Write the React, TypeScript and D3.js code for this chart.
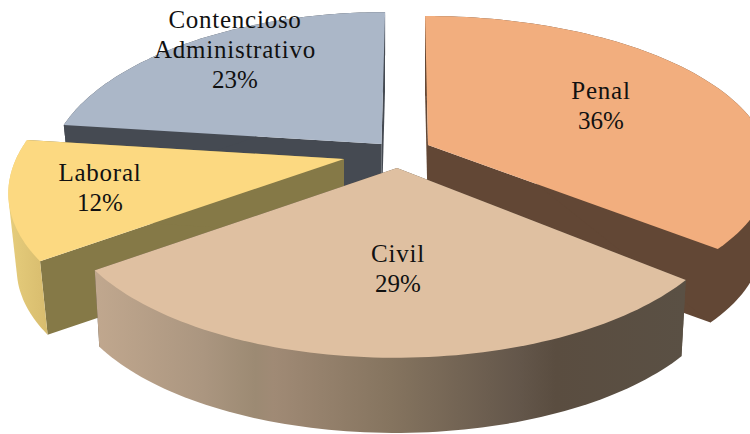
import React from "react";
import * as d3 from "d3";

const categories = ["Penal", "Civil", "Laboral", "Contencioso Administrativo"];
const shares = [36, 29, 12, 23];
const percentLabels = ["36%", "29%", "12%", "23%"];

const labelLines = [["Penal"], ["Civil"], ["Laboral"], ["Contencioso", "Administrativo"]];
const topColors = ["#f2ae7e", "#dfc0a1", "#fcd981", "#abb7c8"];
const radialColors = ["#624735", "#5a4f42", "#857947", "#454a52"];
const apexes: [number, number][] = [[428, 145], [397, 168], [344, 159], [381.5, 144]];
const labelPos: [number, number][] = [[601, 99], [398, 262], [100, 181], [235, 28]];
const radiiX = [338, 333, 328, 328];
const radiiY = [148, 155.6, 155.6, 155.6];
const perspective = [0.147, 0.18, 0.18, 0.18];
const drops = [76, 78, 76, 76];
const bottomScales = [0.975, 0.985, 0.975, 0.975];
const paintOrder = [3, 0, 2, 1];

const W = 750, H = 434;
const VX = 405;

function project(i: number, t: number): [number, number] {
  const apex = apexes[i];
  const X = Math.sin(t), Y = Math.cos(t);
  const s = 1 / (1 + perspective[i] * Y);
  return [VX + (apex[0] - VX) * s + radiiX[i] * X * s, apex[1] - radiiY[i] * Y * s];
}
function dropPoint(i: number, p: [number, number]): [number, number] {
  const apex = apexes[i];
  const k = bottomScales[i];
  return [apex[0] + (p[0] - apex[0]) * k, apex[1] + (p[1] - apex[1]) * k + drops[i]];
}

const pieGen = d3.pie<number>().sort(null).value((d) => d).startAngle(0).endAngle(2 * Math.PI);
const arcs = pieGen(shares);
const line = d3.line();

function arcPoints(i: number, a0: number, a1: number) {
  const n = 80;
  return d3.range(n + 1).map((k) => project(i, a0 + ((a1 - a0) * k) / n));
}
function closed(pts: [number, number][]) {
  return (line(pts) || "") + "Z";
}

export default function App() {
  return (
    <svg width={W} height={H} style={{ position: "absolute", left: 0, top: 0, background: "#fff", overflow: "hidden" }}>
      <defs>
        <linearGradient id="civilWall" gradientUnits="userSpaceOnUse" x1={97} x2={685} y1={0} y2={0}>
          <stop offset="0" stopColor="#c0a78e" />
          <stop offset="0.18" stopColor="#ab9680" />
          <stop offset="0.27" stopColor="#9c8a73" />
          <stop offset="0.3" stopColor="#a08a75" />
          <stop offset="0.5" stopColor="#85745f" />
          <stop offset="0.72" stopColor="#63564a" />
          <stop offset="0.78" stopColor="#5a4d40" />
          <stop offset="1" stopColor="#5a5044" />
        </linearGradient>
        <linearGradient id="laboralWall" gradientUnits="userSpaceOnUse" x1={8} x2={52} y1={0} y2={0}>
          <stop offset="0" stopColor="#e6cd7c" />
          <stop offset="1" stopColor="#d6ba6c" />
        </linearGradient>
      </defs>
      {paintOrder.map((i) => {
        const arc = arcs[i];
        const apex = apexes[i];
        const top = arcPoints(i, arc.startAngle, arc.endAngle);
        const bottom = top.map((p) => dropPoint(i, p));
        const apexBottom: [number, number] = [apex[0], apex[1] + drops[i]];
        const first = top[0], last = top[top.length - 1];
        const outerFill = i === 1 ? "url(#civilWall)" : i === 2 ? "url(#laboralWall)" : radialColors[i];
        const hull = d3.polygonHull([...top, ...bottom]) as [number, number][];
        return (
          <g key={categories[i]}>
            <path d={closed([apex, first, dropPoint(i, first), apexBottom])} fill={radialColors[i]} />
            <path d={closed([apex, last, dropPoint(i, last), apexBottom])} fill={radialColors[i]} />
            <path d={closed(hull)} fill={outerFill} />
            <path d={closed([apex, ...top])} fill={topColors[i]} />
          </g>
        );
      })}
      {categories.map((c, i) => {
        const [x, y] = labelPos[i];
        const names = labelLines[i];
        return (
          <text key={c} x={x} y={y} textAnchor="middle" fontFamily="'Liberation Serif', serif" fontSize={25} fill="#111">
            {names.map((l, k) => (
              <tspan key={l} x={x} y={y + k * 30} letterSpacing={0.75}>{l}</tspan>
            ))}
            <tspan x={x} y={y + names.length * 30}>{percentLabels[i]}</tspan>
          </text>
        );
      })}
    </svg>
  );
}
